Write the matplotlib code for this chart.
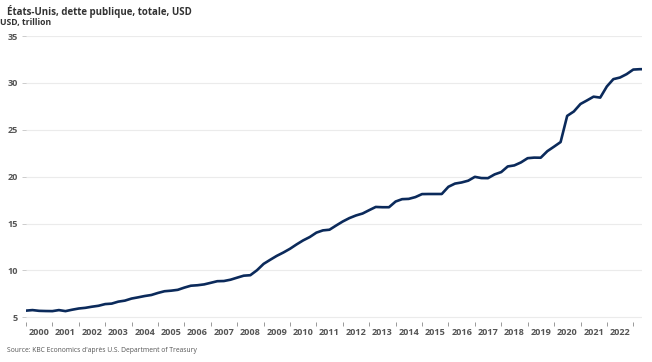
import matplotlib
matplotlib.use("Agg")
import matplotlib.pyplot as plt
import matplotlib.dates as mdates
import pandas as pd
import numpy as np

plt.rcParams['font.family'] = ['Open Sans', 'DejaVu Sans']

# US total public debt, USD trillion (end of quarter)
start_value = 5.72
debt = [
    5.77, 5.69, 5.67, 5.66,      # 2000
    5.77, 5.66, 5.81, 5.94,      # 2001
    6.01, 6.13, 6.23, 6.41,      # 2002
    6.46, 6.67, 6.78, 7.00,      # 2003
    7.13, 7.27, 7.38, 7.60,      # 2004
    7.78, 7.84, 7.93, 8.17,      # 2005
    8.37, 8.42, 8.51, 8.68,      # 2006
    8.85, 8.87, 9.01, 9.23,      # 2007
    9.44, 9.49, 10.02, 10.70,    # 2008
    11.13, 11.55, 11.91, 12.31,  # 2009
    12.77, 13.20, 13.56, 14.03,  # 2010
    14.27, 14.34, 14.79, 15.22,  # 2011
    15.58, 15.86, 16.07, 16.43,  # 2012
    16.77, 16.74, 16.74, 17.35,  # 2013
    17.60, 17.63, 17.82, 18.14,  # 2014
    18.15, 18.15, 18.15, 18.92,  # 2015
    19.26, 19.38, 19.57, 19.98,  # 2016
    19.85, 19.84, 20.24, 20.49,  # 2017
    21.09, 21.20, 21.52, 21.97,  # 2018
    22.03, 22.02, 22.72, 23.20,  # 2019
    23.69, 26.48, 26.95, 27.75,  # 2020
    28.13, 28.53, 28.43, 29.62,  # 2021
    30.40, 30.57, 30.93, 31.42,  # 2022
    31.46,                       # 2023 Q1
]
end_value = 31.46
years = list(range(2000, 2023))
yticks = [5, 10, 15, 20, 25, 30, 35]

dates = [pd.Timestamp('2000-01-15')] + list(pd.date_range('2000-03-31', periods=len(debt), freq='QE')) + [pd.Timestamp('2023-04-15')]
values = [start_value] + debt + [end_value]

fig = plt.figure(figsize=(6.52, 3.62), dpi=100)
ax = fig.add_axes([26/652, 1 - 322/362, 616/652, 286/362])

ax.plot(dates, values, color='#0b2a5b', lw=1.9, solid_joinstyle='round')

ax.set_xlim(pd.Timestamp('2000-01-01'), pd.Timestamp('2023-05-01'))
ax.set_ylim(4.5, 35)
ax.set_yticks(yticks)
ax.grid(axis='y', color='#ebebeb', lw=0.8)
ax.set_axisbelow(True)
for s in ax.spines.values():
    s.set_visible(False)

ax.xaxis.set_major_locator(mdates.YearLocator())
ax.xaxis.set_major_formatter(plt.NullFormatter())
ax.set_xticks([pd.Timestamp(f'{y}-07-01') for y in years], minor=True)
ax.set_xticklabels([str(y) for y in years], minor=True)
ax.tick_params(axis='x', which='major', length=3, color='#999999', width=0.7)
ax.tick_params(axis='x', which='minor', length=0, pad=4, labelsize=6.6, labelcolor='#555555')
ax.tick_params(axis='y', length=3, color='#cccccc', width=0.7, pad=3, labelsize=6.6, labelcolor='#555555')
for lab in ax.get_xticklabels(minor=True) + ax.get_yticklabels():
    lab.set_fontweight('bold')

fig.text(7/652, 1 - 11/362, 'États-Unis, dette publique, totale, USD', fontsize=7.0,
         fontweight='bold', color='#333333', va='center', ha='left')
fig.text(0, 1 - 23/362, 'USD, trillion', fontsize=6.2, fontweight='bold',
         color='#333333', va='center', ha='left')
fig.text(7/652, 1 - 350/362, "Source: KBC Economics d'après U.S. Department of Treasury",
         fontsize=4.9, color='#555555', va='center', ha='left')

fig.savefig('out.png', dpi=100)
